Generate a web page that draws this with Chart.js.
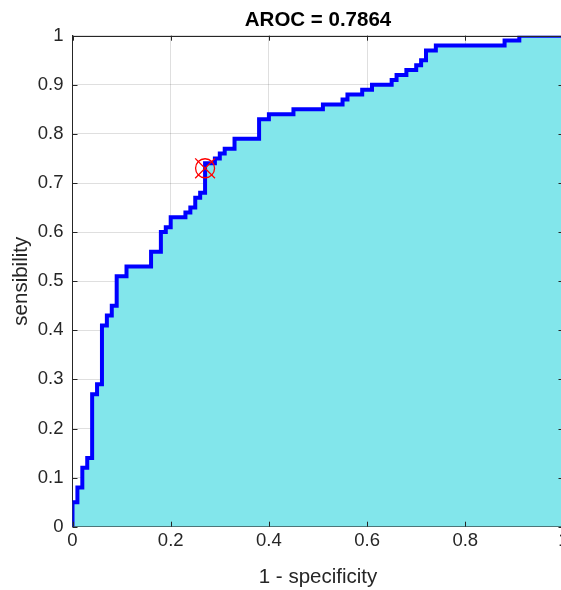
<!DOCTYPE html>
<html>
<head>
<meta charset="utf-8">
<title>AROC</title>
<script src="https://cdn.jsdelivr.net/npm/chart.js@4.4.1/dist/chart.umd.min.js"></script>
<style>
    html, body { margin: 0; padding: 0; background: #fff; overflow: hidden; }
    canvas { display: block; }
</style>
</head>
<body>
<canvas id="rocChart" width="600" height="590"></canvas>
<script>
// ROC curve corners: at each fpr value the curve rises to the matching tpr value
const fpr = [0, 0, 0.01, 0.02, 0.03, 0.04, 0.05, 0.06, 0.07, 0.08, 0.09, 0.11, 0.16, 0.18, 0.19, 0.20,
    0.23, 0.24, 0.25, 0.26, 0.27, 0.29, 0.30, 0.31, 0.33, 0.38, 0.40, 0.45, 0.51, 0.55, 0.56, 0.59,
    0.61, 0.65, 0.66, 0.68, 0.70, 0.71, 0.72, 0.74, 0.88, 0.91, 1.00];
const tpr = [0, 0.05, 0.08, 0.12, 0.14, 0.27, 0.29, 0.41, 0.43, 0.45, 0.51, 0.53, 0.56, 0.60, 0.61, 0.63,
    0.64, 0.65, 0.67, 0.68, 0.74, 0.75, 0.76, 0.77, 0.79, 0.83, 0.84, 0.85, 0.86, 0.87, 0.88, 0.89,
    0.90, 0.91, 0.92, 0.93, 0.94, 0.95, 0.97, 0.98, 0.99, 1.00, 1.00];

// optimal cut-off point
const cutoffFpr = [0.27];
const cutoffTpr = [0.73];

const aroc = 0.7864;

const xTickValues = [0, 0.2, 0.4, 0.6, 0.8, 1];
const yTickValues = [0, 0.1, 0.2, 0.3, 0.4, 0.5, 0.6, 0.7, 0.8, 0.9, 1];

(function(){
    "use strict";

    const axisColor = '#262626';
    const gridColor = 'rgba(38, 38, 38, 0.15)';
    const fontFamily = '"Liberation Sans", Arial, Helvetica, sans-serif';

    // matlab style tick labels: 0, 0.1 ... 1
    const tickLabel = value => String(Math.round(value * 100) / 100);

    /**
     * Draws the top border of the axes box and the inward pointing ticks (matlab look)
    */
    const boxPlugin = {
        id: 'axesBox',
        afterDraw(chart) {
            const ctx = chart.ctx;
            const area = chart.chartArea;
            const xs = chart.scales.x;
            const ys = chart.scales.y;
            const len = 5;
            ctx.save();
            ctx.strokeStyle = axisColor;
            ctx.lineWidth = 1;
            ctx.beginPath();
            ctx.moveTo(area.left, Math.round(area.top) + 0.5);
            ctx.lineTo(area.right, Math.round(area.top) + 0.5);
            xTickValues.forEach(v => {
                const px = Math.round(xs.getPixelForValue(v)) + 0.5;
                ctx.moveTo(px, area.bottom);
                ctx.lineTo(px, area.bottom - len);
                ctx.moveTo(px, area.top);
                ctx.lineTo(px, area.top + len);
            });
            yTickValues.forEach(v => {
                const py = Math.round(ys.getPixelForValue(v)) + 0.5;
                ctx.moveTo(area.left, py);
                ctx.lineTo(area.left + len, py);
                ctx.moveTo(area.right, py);
                ctx.lineTo(area.right - len, py);
            });
            ctx.stroke();
            ctx.restore();
        }
    };

    function createChart() {
        const ctx = document.getElementById('rocChart').getContext('2d');
        const curve = fpr.map((x, i) => ({ x: x, y: tpr[i] }));
        const cutoff = cutoffFpr.map((x, i) => ({ x: x, y: cutoffTpr[i] }));

        new Chart(ctx, {
            type: 'line',
            data: {
                datasets: [
                    {
                        // cross of the cut-off marker
                        data: cutoff,
                        showLine: false,
                        pointStyle: 'crossRot',
                        pointRadius: 14,
                        pointBorderColor: '#ff0000',
                        pointBorderWidth: 1.3,
                    }, {
                        // circle of the cut-off marker
                        data: cutoff,
                        showLine: false,
                        pointStyle: 'circle',
                        pointRadius: 9.5,
                        pointBorderColor: '#ff0000',
                        pointBackgroundColor: 'rgba(0, 0, 0, 0)',
                        pointBorderWidth: 1.3,
                    }, {
                        label: 'ROC',
                        data: curve,
                        stepped: 'before',
                        borderColor: '#0000ff',
                        borderWidth: 4,
                        borderJoinStyle: 'miter',
                        borderCapStyle: 'butt',
                        backgroundColor: 'rgb(130, 230, 235)',
                        fill: 'origin',
                        pointRadius: 0,
                    }
                ]
            },

            options: {
                responsive: false,
                animation: false,
                events: [],
                layout: {
                    padding: { left: 0, top: 0, right: 36.5, bottom: 0 }
                },
                scales: {
                    x: {
                        type: 'linear',
                        min: 0,
                        max: 1,
                        z: 1,
                        afterBuildTicks: scale => { scale.ticks = xTickValues.map(v => ({ value: v })); },
                        afterFit: scale => { scale.height = 63.3; },
                        grid: { color: gridColor, drawTicks: false },
                        border: { color: axisColor, width: 1 },
                        ticks: {
                            color: axisColor,
                            padding: 3,
                            maxRotation: 0,
                            callback: tickLabel,
                            font: { family: fontFamily, size: 18.5 }
                        },
                        title: {
                            display: true,
                            text: '1 - specificity',
                            color: axisColor,
                            padding: { top: 0, bottom: 0.7 },
                            font: { family: fontFamily, size: 20.5 }
                        }
                    },
                    y: {
                        type: 'linear',
                        min: 0,
                        max: 1,
                        z: 1,
                        afterBuildTicks: scale => { scale.ticks = yTickValues.map(v => ({ value: v })); },
                        afterFit: scale => { scale.width = 72.5; },
                        grid: { color: gridColor, drawTicks: false },
                        border: { color: axisColor, width: 1 },
                        ticks: {
                            color: axisColor,
                            padding: 9,
                            callback: tickLabel,
                            font: { family: fontFamily, size: 18.5 }
                        },
                        title: {
                            display: true,
                            text: 'sensibility',
                            color: axisColor,
                            padding: { top: 8.7, bottom: 0 },
                            font: { family: fontFamily, size: 20.5 }
                        }
                    }
                },
                plugins: {
                    legend: { display: false },
                    tooltip: { enabled: false },
                    title: {
                        display: true,
                        fullSize: false,
                        text: 'AROC = ' + aroc.toFixed(4),
                        color: '#000000',
                        padding: { top: 8, bottom: 3.1 },
                        font: { family: fontFamily, size: 20.5, weight: 'bold' }
                    }
                }
            },
            plugins: [boxPlugin]
        });
    }

    createChart();

})();
</script>
</body>
</html>
